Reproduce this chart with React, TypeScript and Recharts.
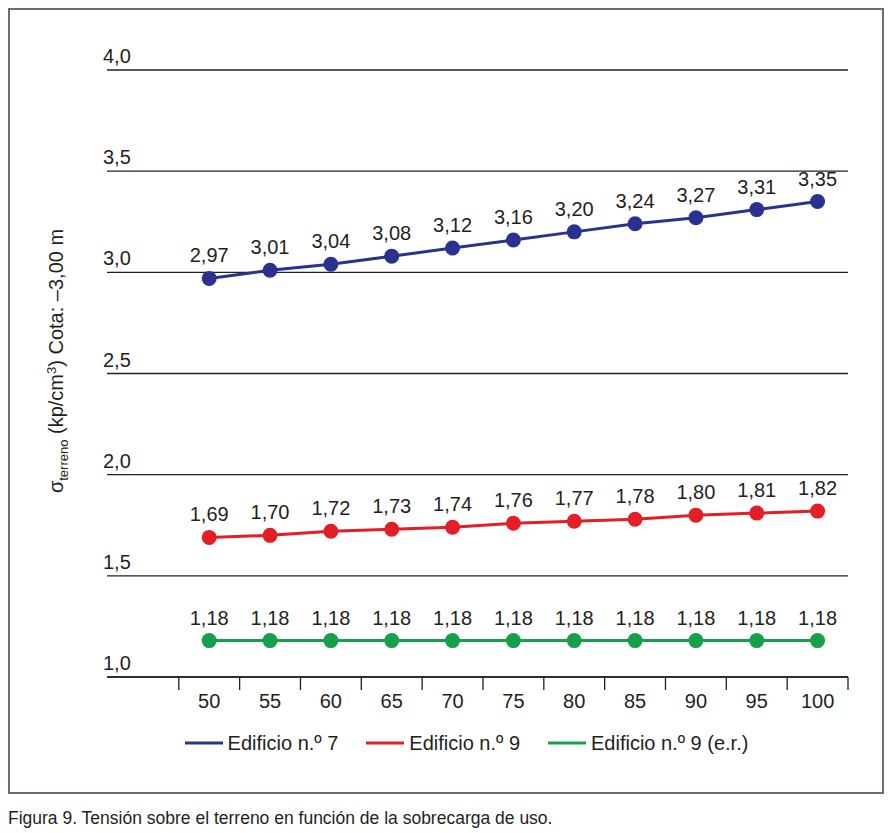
import { LineChart, Line, XAxis, YAxis, CartesianGrid, Legend, LabelList } from 'recharts';

// sobrecarga de uso (x) and σ terreno for each building
const loads = [50, 55, 60, 65, 70, 75, 80, 85, 90, 95, 100];
const edificio7 = [2.97, 3.01, 3.04, 3.08, 3.12, 3.16, 3.2, 3.24, 3.27, 3.31, 3.35];
const edificio9 = [1.69, 1.7, 1.72, 1.73, 1.74, 1.76, 1.77, 1.78, 1.8, 1.81, 1.82];
const edificio9er = [1.18, 1.18, 1.18, 1.18, 1.18, 1.18, 1.18, 1.18, 1.18, 1.18, 1.18];

const yTicks = [1, 1.5, 2, 2.5, 3, 3.5, 4];
// separators between the load categories
const bandTicks = [47.5, 52.5, 57.5, 62.5, 67.5, 72.5, 77.5, 82.5, 87.5, 92.5, 97.5, 102.5];

const series = [
  { key: 'e7', name: 'Edificio n.º 7', color: '#2b3190' },
  { key: 'e9', name: 'Edificio n.º 9', color: '#e31e26' },
  { key: 'e9er', name: 'Edificio n.º 9 (e.r.)', color: '#17a04b' },
];

const data = loads.map((load, i) => ({
  load,
  e7: edificio7[i],
  e9: edificio9[i],
  e9er: edificio9er[i],
}));

const TEXT = '#231f20';
const FONT = '"Liberation Sans", Arial, Helvetica, sans-serif';

const fmt2 = (v: any) => Number(v).toFixed(2).replace('.', ',');
const fmt1 = (v: number) => v.toFixed(1).replace('.', ',');

const YTick = ({ y, payload }: any) => (
  <text x={93} y={y - 7} fontSize={20} fill={TEXT}>
    {fmt1(payload.value)}
  </text>
);

const XTick = ({ x, y, payload }: any) => (
  <text x={x} y={y + 17} fontSize={20} fill={TEXT} textAnchor="middle">
    {payload.value}
  </text>
);

const NoTick = () => <g />;

const YTitle = () => {
  const cx = 53;
  const cy = 351;
  return (
    <text
      x={cx}
      y={cy}
      transform={`rotate(-90 ${cx} ${cy})`}
      textAnchor="middle"
      fontSize={20}
      fill={TEXT}
    >
      <tspan>σ</tspan>
      <tspan fontSize={13} dy={5}>terreno</tspan>
      <tspan dy={-5}> (kp/cm</tspan>
      <tspan fontSize={13} dy={-7}>3</tspan>
      <tspan dy={7}>) Cota: –3,00 m</tspan>
    </text>
  );
};

const LegendContent = () => (
  <div
    style={{
      display: 'flex',
      justifyContent: 'center',
      alignItems: 'center',
      height: 36,
      gap: 28,
      fontSize: 20,
      color: TEXT,
    }}
  >
    {series.map((s) => (
      <div key={s.key} style={{ display: 'flex', alignItems: 'center' }}>
        <svg width={38} height={4}>
          <line x1={0} y1={2} x2={38} y2={2} stroke={s.color} strokeWidth={3} />
        </svg>
        <span style={{ marginLeft: 5 }}>{s.name}</span>
      </div>
    ))}
  </div>
);

export default function App() {
  return (
    <div style={{ width: 876, fontFamily: FONT, color: TEXT }}>
      <div style={{ width: 876, height: 786, border: '2px solid #6b6b7a', boxSizing: 'border-box' }}>
        <LineChart
          width={872}
          height={782}
          data={data}
          margin={{ top: 60, right: 34, left: 0, bottom: 31 }}
        >
          <CartesianGrid
            horizontal
            vertical={false}
            stroke={TEXT}
            strokeWidth={1.3}
            xAxisId="a"
          />
          <XAxis
            xAxisId="a"
            type="number"
            dataKey="load"
            domain={[41.6, 102.5]}
            ticks={bandTicks}
            interval={0}
            tick={<NoTick />}
            tickSize={13}
            tickLine={{ stroke: TEXT, strokeWidth: 1.3 }}
            axisLine={{ stroke: TEXT, strokeWidth: 1.3 }}
            height={14}
          />
          <XAxis
            xAxisId="b"
            type="number"
            dataKey="load"
            domain={[41.6, 102.5]}
            ticks={loads}
            interval={0}
            tickLine={false}
            axisLine={false}
            tickSize={0}
            tickMargin={0}
            tick={<XTick />}
            height={34}
          />
          <YAxis
            type="number"
            domain={[1, 4]}
            ticks={yTicks}
            interval={0}
            width={97}
            tickLine={false}
            axisLine={false}
            tick={<YTick />}
            label={() => <YTitle />}
          />
          <Legend
            verticalAlign="bottom"
            content={<LegendContent />}
            wrapperStyle={{ left: 86, width: 741 }}
          />
          {series.map((s) => (
            <Line
              key={s.key}
              xAxisId="a"
              dataKey={s.key}
              name={s.name}
              stroke={s.color}
              strokeWidth={3}
              dot={{ r: 7.5, fill: s.color, stroke: 'none' }}
              activeDot={false}
              isAnimationActive={false}
            >
              <LabelList
                dataKey={s.key}
                position="top"
                offset={16}
                formatter={fmt2}
                fontSize={20}
                fill={TEXT}
              />
            </Line>
          ))}
        </LineChart>
      </div>
      <div style={{ marginTop: 14, fontSize: 17.5, lineHeight: '20px' }}>
        Figura 9. Tensión sobre el terreno en función de la sobrecarga de uso.
      </div>
    </div>
  );
}
